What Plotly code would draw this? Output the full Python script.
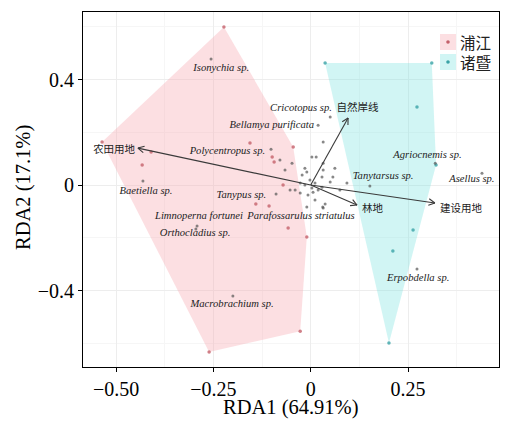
import plotly.graph_objects as go
import numpy as np

# ---------------- data ----------------
group_names = ["浦江", "诸暨"]
group_fill = ["rgba(248,170,180,0.38)", "rgba(120,225,222,0.34)"]
group_marker_colors = ["#C4606A", "#3AA3A6"]

pujiang_x = [-0.223, -0.536, -0.433, -0.410, -0.156, -0.141, -0.107, -0.261, -0.027, -0.058, -0.010, -0.045, -0.099, -0.094, -0.071]
pujiang_y = [0.599, 0.163, 0.076, 0.125, 0.159, -0.072, -0.080, -0.633, -0.554, -0.163, -0.197, 0.144, 0.106, 0.087, 0.0]

zhuji_x = [0.037, 0.311, 0.273, 0.322, 0.263, 0.211, 0.201]
zhuji_y = [0.463, 0.463, 0.296, 0.076, -0.171, -0.250, -0.599]

species_names = ["Isonychia sp.", "Cricotopus sp.", "Bellamya purificata", "Polycentropus sp.",
                 "Baetiella sp.", "Tanypus sp.", "Limnoperna fortunei", "Parafossarulus striatulus",
                 "Orthocladius sp.", "Macrobrachium sp.", "Agriocnemis sp.", "Tanytarsus sp.",
                 "Asellus sp.", "Erpobdella sp."]
species_x = [-0.256, 0.050, 0.019, -0.102, -0.431, -0.089, -0.292, 0.031, -0.295, -0.200, 0.320, 0.152, 0.440, 0.273]
species_y = [0.478, 0.258, 0.227, 0.136, 0.015, -0.034, -0.155, -0.083, -0.167, -0.421, 0.083, -0.004, 0.045, -0.318]
species_label_x = [-0.230, -0.025, -0.100, -0.214, -0.423, -0.178, -0.287, -0.025, -0.297, -0.202, 0.300, 0.186, 0.414, 0.276]
species_label_y = [0.444, 0.292, 0.227, 0.129, -0.023, -0.038, -0.118, -0.118, -0.182, -0.451, 0.114, 0.034, 0.023, -0.353]

other_species_x = [0.032, -0.079, -0.048, -0.015, 0.003, 0.014, -0.022, -0.010, 0.032, 0.029, 0.057, 0.050,
                   -0.053, -0.040, -0.027, 0.006, 0.029, -0.007, 0.011, -0.010, 0.032, 0.062, 0.037, 0.032,
                   -0.002, -0.015, -0.027, 0.011, 0.019, 0.003, 0.075, -0.066, 0.093]
other_species_y = [0.163, 0.095, 0.083, 0.064, 0.106, 0.106, 0.038, 0.049, 0.057, 0.030, 0.030, 0.011,
                   -0.019, -0.019, -0.030, -0.027, -0.008, -0.038, -0.057, -0.083, 0.083, 0.064, -0.072, -0.087,
                   0.019, 0.0, 0.008, 0.008, -0.019, -0.011, -0.019, 0.057, 0.008]

env_names = ["自然岸线", "林地", "建设用地", "农田用地"]
env_x = [0.096, 0.119, 0.319, -0.444]
env_y = [0.254, -0.076, -0.068, 0.140]
env_label_x = [0.120, 0.159, 0.386, -0.505]
env_label_y = [0.292, -0.091, -0.091, 0.133]

x_tickvals = [-0.50, -0.25, 0, 0.25]
x_ticktext = ["−0.50", "−0.25", "0", "0.25"]
y_tickvals = [-0.4, 0, 0.4]
y_ticktext = ["−0.4", "0", "0.4"]

x_title = "RDA1 (64.91%)"
y_title = "RDA2 (17.1%)"

# ---------------- layout constants ----------------
# page body has an 8px default margin, so the figure is drawn 8px in from the window's top-left
W, H = 504, 413
ML, MR, MT, MB = 75, 13, 4, 54
XR = [-0.585, 0.4837]
YR = [-0.690, 0.656]
SERIF = "Liberation Serif, Times New Roman, serif"
CJK = "Noto Sans CJK SC, sans-serif"


def convex_hull(xs, ys):
    pts = sorted(set(zip(xs, ys)))
    if len(pts) <= 2:
        return pts

    def cross(o, a, b):
        return (a[0] - o[0]) * (b[1] - o[1]) - (a[1] - o[1]) * (b[0] - o[0])

    lower, upper = [], []
    for p in pts:
        while len(lower) >= 2 and cross(lower[-2], lower[-1], p) <= 0:
            lower.pop()
        lower.append(p)
    for p in reversed(pts):
        while len(upper) >= 2 and cross(upper[-2], upper[-1], p) <= 0:
            upper.pop()
        upper.append(p)
    return lower[:-1] + upper[:-1]


fig = go.Figure()

groups = [(pujiang_x, pujiang_y), (zhuji_x, zhuji_y)]
for (gx, gy), name, fcol, mcol in zip(groups, group_names, group_fill, group_marker_colors):
    hull = convex_hull(gx, gy)
    hx = [p[0] for p in hull] + [hull[0][0]]
    hy = [p[1] for p in hull] + [hull[0][1]]
    fig.add_trace(go.Scatter(
        x=hx, y=hy, fill="toself", mode="lines",
        fillcolor=fcol, line=dict(width=0, color="rgba(0,0,0,0)"),
        name=name, showlegend=False, hoverinfo="skip"))
    fig.add_trace(go.Scatter(
        x=gx, y=gy, mode="markers", name=name, showlegend=False,
        marker=dict(size=3.5, color=mcol, opacity=0.8)))

# species points
fig.add_trace(go.Scatter(
    x=other_species_x + species_x, y=other_species_y + species_y, mode="markers",
    marker=dict(size=3, color="#555555", opacity=0.7), showlegend=False, hoverinfo="skip"))

# species labels
fig.add_trace(go.Scatter(
    x=species_label_x, y=species_label_y, mode="text", text=species_names,
    textfont=dict(family=SERIF, size=10.6, color="#222222", style="italic"),
    showlegend=False, hoverinfo="skip"))

# env arrows
pw = W - ML - MR
ph = H - MT - MB
sx = pw / (XR[1] - XR[0])
sy = ph / (YR[1] - YR[0])
lx, ly = [], []
hx_, hy_ = [], []
head_len, head_ang = 7.0, np.deg2rad(28)
for ex, ey in zip(env_x, env_y):
    lx += [0, ex, None]
    ly += [0, ey, None]
    ang = np.arctan2(ey * sy, ex * sx)
    for s in (1, -1):
        a = ang + np.pi + s * head_ang
        hx_ += [ex + head_len * np.cos(a) / sx, ex, None]
        hy_ += [ey + head_len * np.sin(a) / sy, ey, None]
fig.add_trace(go.Scatter(x=lx, y=ly, mode="lines", line=dict(color="#3a3a3a", width=1.1),
                         showlegend=False, hoverinfo="skip"))
fig.add_trace(go.Scatter(x=hx_, y=hy_, mode="lines", line=dict(color="#3a3a3a", width=1.1),
                         showlegend=False, hoverinfo="skip"))

fig.add_trace(go.Scatter(
    x=env_label_x, y=env_label_y, mode="text", text=env_names,
    textfont=dict(family=CJK, size=10.5, color="#222222"),
    showlegend=False, hoverinfo="skip"))

# custom legend (paper coordinates); positions given in window pixels
leg_x_px = 448 - 8
leg_y_px = [42 - 8, 62 - 8]
leg_text_px = 458 - 8
for name, fcol, mcol, ypx in zip(group_names, group_fill, group_marker_colors, leg_y_px):
    cx = (leg_x_px - ML) / pw
    cy = 1 - (ypx - MT) / ph
    hw, hh = 8 / pw, 8 / ph
    fig.add_shape(type="rect", xref="paper", yref="paper", x0=cx - hw, x1=cx + hw, y0=cy - hh, y1=cy + hh,
                  fillcolor=fcol, line=dict(width=0))
    rw, rh = 1.8 / pw, 1.8 / ph
    fig.add_shape(type="circle", xref="paper", yref="paper", x0=cx - rw, x1=cx + rw, y0=cy - rh, y1=cy + rh,
                  fillcolor=mcol, line=dict(width=0))
    fig.add_annotation(xref="paper", yref="paper", x=(leg_text_px - ML) / pw, y=cy, xanchor="left",
                       yanchor="middle", text=name, showarrow=False,
                       font=dict(family=CJK, size=15.5, color="#222222"))

# axis titles as annotations (window pixels -> paper)
fig.add_annotation(xref="paper", yref="paper", x=0.5, y=1 - (407 - 8 - MT) / ph,
                   xanchor="center", yanchor="middle", text=x_title, showarrow=False,
                   font=dict(family=SERIF, size=20.5, color="black"))
fig.add_annotation(xref="paper", yref="paper", x=(23 - 8 - ML) / pw, y=1 - (188 - 8 - MT) / ph,
                   xanchor="center", yanchor="middle", text=y_title, showarrow=False, textangle=-90,
                   font=dict(family=SERIF, size=20.5, color="black"))

axis_common = dict(
    showline=True, linecolor="black", linewidth=1, mirror=True,
    ticks="outside", ticklen=4, tickcolor="black", tickwidth=1,
    showgrid=True, gridcolor="#EDEDED", gridwidth=0.8, zeroline=False, automargin=False,
    tickfont=dict(family=SERIF, size=20, color="black"),
)

fig.update_layout(
    width=W, height=H,
    margin=dict(l=ML, r=MR, t=MT, b=MB),
    paper_bgcolor="white", plot_bgcolor="white",
    showlegend=False,
    xaxis=dict(range=XR, tickvals=x_tickvals, ticktext=x_ticktext,
               minor=dict(showgrid=True, gridcolor="#F6F6F6", dtick=0.125, tick0=0), **axis_common),
    yaxis=dict(range=YR, tickvals=y_tickvals, ticktext=y_ticktext,
               minor=dict(showgrid=True, gridcolor="#F6F6F6", dtick=0.2, tick0=0), **axis_common),
)

fig.write_html("out.html")
